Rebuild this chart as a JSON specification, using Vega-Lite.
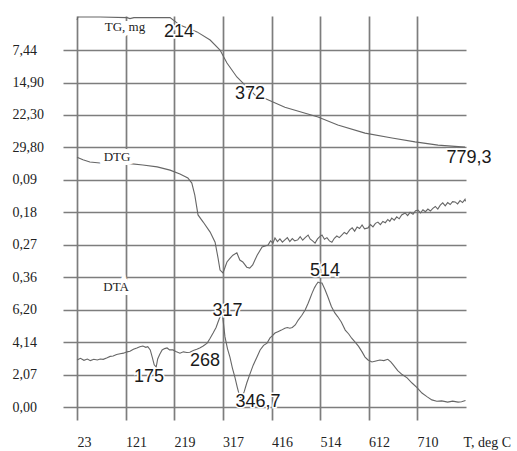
{
  "$schema": "https://vega.github.io/schema/vega-lite/v6.json",
  "width": 403,
  "height": 404,
  "autosize": {"type": "none"},
  "padding": {"left": 63, "top": 16, "right": 51, "bottom": 31},
  "background": "white",
  "config": {"view": {"stroke": null}},
  "datasets": {
    "curves": [
      {"series": "TG", "T": 23, "v": 11.93},
      {"series": "TG", "T": 25, "v": 12.02},
      {"series": "TG", "T": 69.5, "v": 12.02},
      {"series": "TG", "T": 124, "v": 12.0},
      {"series": "TG", "T": 130, "v": 11.97},
      {"series": "TG", "T": 138, "v": 12.0},
      {"series": "TG", "T": 211, "v": 12.0},
      {"series": "TG", "T": 231, "v": 11.77},
      {"series": "TG", "T": 265.5, "v": 11.56},
      {"series": "TG", "T": 292, "v": 11.31},
      {"series": "TG", "T": 312, "v": 11.0},
      {"series": "TG", "T": 326, "v": 10.6},
      {"series": "TG", "T": 346, "v": 10.17},
      {"series": "TG", "T": 366.5, "v": 9.86},
      {"series": "TG", "T": 387, "v": 9.55},
      {"series": "TG", "T": 403, "v": 9.51},
      {"series": "TG", "T": 443, "v": 9.24},
      {"series": "TG", "T": 510, "v": 8.94},
      {"series": "TG", "T": 550, "v": 8.69},
      {"series": "TG", "T": 605, "v": 8.44},
      {"series": "TG", "T": 659.5, "v": 8.29},
      {"series": "TG", "T": 706, "v": 8.17},
      {"series": "TG", "T": 752.5, "v": 8.07},
      {"series": "TG", "T": 807, "v": 8.01},

      {"series": "DTG", "T": 23, "v": 7.7},
      {"series": "DTG", "T": 35, "v": 7.62},
      {"series": "DTG", "T": 49, "v": 7.55},
      {"series": "DTG", "T": 69.5, "v": 7.52},
      {"series": "DTG", "T": 90, "v": 7.5},
      {"series": "DTG", "T": 110, "v": 7.52},
      {"series": "DTG", "T": 130, "v": 7.5},
      {"series": "DTG", "T": 156, "v": 7.46},
      {"series": "DTG", "T": 185, "v": 7.4},
      {"series": "DTG", "T": 211, "v": 7.3},
      {"series": "DTG", "T": 231, "v": 7.18},
      {"series": "DTG", "T": 247, "v": 7.06},
      {"series": "DTG", "T": 255, "v": 6.9},
      {"series": "DTG", "T": 261, "v": 6.53},
      {"series": "DTG", "T": 267.5, "v": 5.92},
      {"series": "DTG", "T": 278, "v": 5.7},
      {"series": "DTG", "T": 292, "v": 5.39},
      {"series": "DTG", "T": 302, "v": 5.08},
      {"series": "DTG", "T": 308, "v": 4.59},
      {"series": "DTG", "T": 312, "v": 4.22},
      {"series": "DTG", "T": 318, "v": 4.13},
      {"series": "DTG", "T": 326, "v": 4.47},
      {"series": "DTG", "T": 332, "v": 4.58},
      {"series": "DTG", "T": 338, "v": 4.68},
      {"series": "DTG", "T": 346, "v": 4.75},
      {"series": "DTG", "T": 352, "v": 4.53},
      {"series": "DTG", "T": 358, "v": 4.47},
      {"series": "DTG", "T": 366, "v": 4.31},
      {"series": "DTG", "T": 372, "v": 4.28},
      {"series": "DTG", "T": 378, "v": 4.38},
      {"series": "DTG", "T": 387, "v": 4.68},
      {"series": "DTG", "T": 397, "v": 4.93},
      {"series": "DTG", "T": 409, "v": 4.99},
      {"series": "DTG", "T": 414, "v": 5.12},
      {"series": "DTG", "T": 419, "v": 5.05},
      {"series": "DTG", "T": 423, "v": 5.21},
      {"series": "DTG", "T": 428, "v": 5.1},
      {"series": "DTG", "T": 433, "v": 5.18},
      {"series": "DTG", "T": 438, "v": 5.08},
      {"series": "DTG", "T": 443, "v": 5.15},
      {"series": "DTG", "T": 448, "v": 5.22},
      {"series": "DTG", "T": 453, "v": 5.1},
      {"series": "DTG", "T": 458, "v": 5.19},
      {"series": "DTG", "T": 463, "v": 5.12},
      {"series": "DTG", "T": 469, "v": 5.15},
      {"series": "DTG", "T": 474, "v": 5.25},
      {"series": "DTG", "T": 479, "v": 5.14},
      {"series": "DTG", "T": 484, "v": 5.22},
      {"series": "DTG", "T": 490, "v": 5.3},
      {"series": "DTG", "T": 494, "v": 5.18},
      {"series": "DTG", "T": 499, "v": 5.12},
      {"series": "DTG", "T": 504, "v": 5.05},
      {"series": "DTG", "T": 509, "v": 5.18},
      {"series": "DTG", "T": 514, "v": 5.26},
      {"series": "DTG", "T": 518, "v": 5.3},
      {"series": "DTG", "T": 523, "v": 5.17},
      {"series": "DTG", "T": 528, "v": 5.22},
      {"series": "DTG", "T": 533, "v": 5.12},
      {"series": "DTG", "T": 538, "v": 5.08},
      {"series": "DTG", "T": 543, "v": 5.2},
      {"series": "DTG", "T": 548, "v": 5.27},
      {"series": "DTG", "T": 553, "v": 5.22},
      {"series": "DTG", "T": 558, "v": 5.3},
      {"series": "DTG", "T": 563, "v": 5.38},
      {"series": "DTG", "T": 568, "v": 5.33},
      {"series": "DTG", "T": 574, "v": 5.46},
      {"series": "DTG", "T": 579, "v": 5.52},
      {"series": "DTG", "T": 584, "v": 5.42},
      {"series": "DTG", "T": 589, "v": 5.55},
      {"series": "DTG", "T": 594, "v": 5.5},
      {"series": "DTG", "T": 599, "v": 5.61},
      {"series": "DTG", "T": 604, "v": 5.49},
      {"series": "DTG", "T": 611, "v": 5.52},
      {"series": "DTG", "T": 616, "v": 5.62},
      {"series": "DTG", "T": 621, "v": 5.55},
      {"series": "DTG", "T": 626, "v": 5.66},
      {"series": "DTG", "T": 631, "v": 5.7},
      {"series": "DTG", "T": 636, "v": 5.62},
      {"series": "DTG", "T": 641, "v": 5.72},
      {"series": "DTG", "T": 646, "v": 5.68},
      {"series": "DTG", "T": 651, "v": 5.78},
      {"series": "DTG", "T": 655, "v": 5.72},
      {"series": "DTG", "T": 659, "v": 5.82},
      {"series": "DTG", "T": 664, "v": 5.76},
      {"series": "DTG", "T": 669, "v": 5.86},
      {"series": "DTG", "T": 674, "v": 5.8},
      {"series": "DTG", "T": 679, "v": 5.92},
      {"series": "DTG", "T": 686, "v": 5.98},
      {"series": "DTG", "T": 691, "v": 5.9},
      {"series": "DTG", "T": 696, "v": 6.0},
      {"series": "DTG", "T": 702, "v": 5.94},
      {"series": "DTG", "T": 707, "v": 6.05},
      {"series": "DTG", "T": 712, "v": 6.07},
      {"series": "DTG", "T": 717, "v": 5.98},
      {"series": "DTG", "T": 722, "v": 6.08},
      {"series": "DTG", "T": 727, "v": 6.02},
      {"series": "DTG", "T": 732, "v": 6.1},
      {"series": "DTG", "T": 737, "v": 6.04},
      {"series": "DTG", "T": 742, "v": 6.12},
      {"series": "DTG", "T": 747, "v": 6.18},
      {"series": "DTG", "T": 752, "v": 6.1},
      {"series": "DTG", "T": 757, "v": 6.22},
      {"series": "DTG", "T": 762, "v": 6.29},
      {"series": "DTG", "T": 767, "v": 6.2},
      {"series": "DTG", "T": 772, "v": 6.3},
      {"series": "DTG", "T": 777, "v": 6.24},
      {"series": "DTG", "T": 782, "v": 6.33},
      {"series": "DTG", "T": 787, "v": 6.32},
      {"series": "DTG", "T": 792, "v": 6.26},
      {"series": "DTG", "T": 797, "v": 6.36},
      {"series": "DTG", "T": 802, "v": 6.3},
      {"series": "DTG", "T": 807, "v": 6.4},
      {"series": "DTG", "T": 808, "v": 6.34},

      {"series": "DTA", "T": 23, "v": 1.45},
      {"series": "DTA", "T": 30, "v": 1.5},
      {"series": "DTA", "T": 37, "v": 1.44},
      {"series": "DTA", "T": 44, "v": 1.48},
      {"series": "DTA", "T": 50, "v": 1.43},
      {"series": "DTA", "T": 57, "v": 1.47},
      {"series": "DTA", "T": 64, "v": 1.45},
      {"series": "DTA", "T": 70, "v": 1.48},
      {"series": "DTA", "T": 76, "v": 1.47},
      {"series": "DTA", "T": 84, "v": 1.52},
      {"series": "DTA", "T": 90, "v": 1.56},
      {"series": "DTA", "T": 96, "v": 1.57},
      {"series": "DTA", "T": 103, "v": 1.62},
      {"series": "DTA", "T": 110, "v": 1.64},
      {"series": "DTA", "T": 117, "v": 1.66},
      {"series": "DTA", "T": 124, "v": 1.7},
      {"series": "DTA", "T": 130, "v": 1.72},
      {"series": "DTA", "T": 137, "v": 1.78},
      {"series": "DTA", "T": 144, "v": 1.82},
      {"series": "DTA", "T": 150, "v": 1.86},
      {"series": "DTA", "T": 156, "v": 1.88},
      {"series": "DTA", "T": 162, "v": 1.84},
      {"series": "DTA", "T": 166, "v": 1.86},
      {"series": "DTA", "T": 171, "v": 1.76},
      {"series": "DTA", "T": 175, "v": 1.54},
      {"series": "DTA", "T": 179, "v": 1.3},
      {"series": "DTA", "T": 183, "v": 1.23},
      {"series": "DTA", "T": 186, "v": 1.48},
      {"series": "DTA", "T": 190, "v": 1.62},
      {"series": "DTA", "T": 195, "v": 1.76},
      {"series": "DTA", "T": 200, "v": 1.8},
      {"series": "DTA", "T": 205, "v": 1.82},
      {"series": "DTA", "T": 210, "v": 1.76},
      {"series": "DTA", "T": 217, "v": 1.76},
      {"series": "DTA", "T": 224, "v": 1.7},
      {"series": "DTA", "T": 231, "v": 1.66},
      {"series": "DTA", "T": 238, "v": 1.7},
      {"series": "DTA", "T": 245, "v": 1.68},
      {"series": "DTA", "T": 251, "v": 1.69},
      {"series": "DTA", "T": 258, "v": 1.74},
      {"series": "DTA", "T": 265, "v": 1.78},
      {"series": "DTA", "T": 271, "v": 1.82},
      {"series": "DTA", "T": 278, "v": 1.88},
      {"series": "DTA", "T": 286, "v": 1.97},
      {"series": "DTA", "T": 292, "v": 2.12},
      {"series": "DTA", "T": 298, "v": 2.28},
      {"series": "DTA", "T": 304, "v": 2.45},
      {"series": "DTA", "T": 308, "v": 2.62},
      {"series": "DTA", "T": 312, "v": 2.78},
      {"series": "DTA", "T": 316, "v": 2.9},
      {"series": "DTA", "T": 318, "v": 2.7},
      {"series": "DTA", "T": 322, "v": 2.16},
      {"series": "DTA", "T": 327, "v": 1.8},
      {"series": "DTA", "T": 332, "v": 1.54},
      {"series": "DTA", "T": 337, "v": 1.2},
      {"series": "DTA", "T": 342, "v": 0.92},
      {"series": "DTA", "T": 347, "v": 0.6},
      {"series": "DTA", "T": 352, "v": 0.31},
      {"series": "DTA", "T": 356, "v": 0.28},
      {"series": "DTA", "T": 361, "v": 0.48},
      {"series": "DTA", "T": 366, "v": 0.74},
      {"series": "DTA", "T": 372, "v": 1.0},
      {"series": "DTA", "T": 379, "v": 1.29},
      {"series": "DTA", "T": 386, "v": 1.52},
      {"series": "DTA", "T": 393, "v": 1.76},
      {"series": "DTA", "T": 400, "v": 1.9},
      {"series": "DTA", "T": 407, "v": 1.97},
      {"series": "DTA", "T": 413, "v": 2.13},
      {"series": "DTA", "T": 418, "v": 2.2},
      {"series": "DTA", "T": 423, "v": 2.28},
      {"series": "DTA", "T": 430, "v": 2.33},
      {"series": "DTA", "T": 436, "v": 2.37},
      {"series": "DTA", "T": 443, "v": 2.43},
      {"series": "DTA", "T": 448, "v": 2.45},
      {"series": "DTA", "T": 453, "v": 2.43},
      {"series": "DTA", "T": 458, "v": 2.45},
      {"series": "DTA", "T": 464, "v": 2.53},
      {"series": "DTA", "T": 470, "v": 2.68},
      {"series": "DTA", "T": 477, "v": 2.82},
      {"series": "DTA", "T": 484, "v": 2.99},
      {"series": "DTA", "T": 490, "v": 3.2},
      {"series": "DTA", "T": 494, "v": 3.35},
      {"series": "DTA", "T": 498, "v": 3.51},
      {"series": "DTA", "T": 503, "v": 3.68},
      {"series": "DTA", "T": 506, "v": 3.76},
      {"series": "DTA", "T": 510, "v": 3.85},
      {"series": "DTA", "T": 514, "v": 3.82},
      {"series": "DTA", "T": 518, "v": 3.82},
      {"series": "DTA", "T": 524, "v": 3.62},
      {"series": "DTA", "T": 530, "v": 3.39},
      {"series": "DTA", "T": 537, "v": 3.1},
      {"series": "DTA", "T": 544, "v": 2.9},
      {"series": "DTA", "T": 550, "v": 2.78},
      {"series": "DTA", "T": 557, "v": 2.62},
      {"series": "DTA", "T": 565, "v": 2.37},
      {"series": "DTA", "T": 572, "v": 2.25},
      {"series": "DTA", "T": 578, "v": 2.12},
      {"series": "DTA", "T": 585, "v": 2.0},
      {"series": "DTA", "T": 592, "v": 1.87},
      {"series": "DTA", "T": 599, "v": 1.7},
      {"series": "DTA", "T": 605, "v": 1.54},
      {"series": "DTA", "T": 611, "v": 1.45},
      {"series": "DTA", "T": 619, "v": 1.39},
      {"series": "DTA", "T": 627, "v": 1.42},
      {"series": "DTA", "T": 635, "v": 1.45},
      {"series": "DTA", "T": 643, "v": 1.43},
      {"series": "DTA", "T": 651, "v": 1.47},
      {"series": "DTA", "T": 657, "v": 1.39},
      {"series": "DTA", "T": 662, "v": 1.3},
      {"series": "DTA", "T": 671, "v": 1.12},
      {"series": "DTA", "T": 680, "v": 1.0},
      {"series": "DTA", "T": 690, "v": 0.9},
      {"series": "DTA", "T": 700, "v": 0.74},
      {"series": "DTA", "T": 710, "v": 0.6},
      {"series": "DTA", "T": 720, "v": 0.43},
      {"series": "DTA", "T": 730, "v": 0.32},
      {"series": "DTA", "T": 740, "v": 0.22},
      {"series": "DTA", "T": 750, "v": 0.18},
      {"series": "DTA", "T": 760, "v": 0.19},
      {"series": "DTA", "T": 772, "v": 0.15},
      {"series": "DTA", "T": 782, "v": 0.18},
      {"series": "DTA", "T": 793, "v": 0.15},
      {"series": "DTA", "T": 800, "v": 0.16},
      {"series": "DTA", "T": 808, "v": 0.2}
    ],
    "serifLabels": [
      {"label": "TG, mg", "T": 120, "v": 11.71},
      {"label": "DTG", "T": 104, "v": 7.69},
      {"label": "DTA", "T": 102, "v": 3.7}
    ],
    "numLabels": [
      {"label": "214", "T": 229, "v": 11.57},
      {"label": "372", "T": 372.6, "v": 9.65},
      {"label": "779,3", "T": 815, "v": 7.67},
      {"label": "175", "T": 168.5, "v": 0.92},
      {"label": "268", "T": 281.6, "v": 1.43},
      {"label": "317", "T": 327, "v": 2.97},
      {"label": "346,7", "T": 388.7, "v": 0.14},
      {"label": "514", "T": 524, "v": 4.18}
    ]
  },
  "layer": [
    {
      "data": {"name": "curves"},
      "mark": {"type": "line", "color": "#666666", "strokeWidth": 1.1, "clip": true},
      "encoding": {
        "x": {
          "field": "T", "type": "quantitative",
          "scale": {"domain": [-5.3, 809], "nice": false, "zero": false},
          "axis": {
            "values": [23, 121, 219, 317, 416, 514, 612, 710],
            "tickCount": 20,
            "grid": true, "gridColor": "#7d7d7d", "gridWidth": 1.7,
            "domain": false, "ticks": false, "tickSize": 0,
            "labelFont": "Liberation Serif", "labelFontSize": 14, "labelColor": "#222",
            "labelAlign": "left", "labelBaseline": "middle", "labelPadding": 22, "labelDx": 1,
            "labelFlush": false, "labelOverlap": false,
            "title": "T, deg C", "titleFont": "Liberation Serif", "titleFontSize": 14,
            "titleFontWeight": "normal", "titleColor": "#222",
            "titleX": 400, "titleY": 22, "titleAlign": "left", "titleBaseline": "middle", "titleAngle": 0
          }
        },
        "y": {
          "field": "v", "type": "quantitative",
          "scale": {"domain": [-0.4, 12.05], "nice": false, "zero": false},
          "axis": {
            "values": [0, 1, 2, 3, 4, 5, 6, 7, 8, 9, 10, 11],
            "tickCount": 24,
            "labelExpr": "['0,00','2,07','4,14','6,20','0,36','0,27','0,18','0,09','29,80','22,30','14,90','7,44'][datum.value]",
            "grid": true, "gridColor": "#7d7d7d", "gridWidth": 1.7,
            "domain": false, "ticks": false, "tickSize": 0,
            "labelFont": "Liberation Serif", "labelFontSize": 14, "labelColor": "#222",
            "labelAlign": "left", "labelBaseline": "middle", "labelPadding": 51,
            "labelFlush": false, "labelOverlap": false,
            "title": null
          }
        },
        "detail": {"field": "series"}
      }
    },
    {
      "data": {"name": "serifLabels"},
      "mark": {"type": "text", "font": "Liberation Serif", "fontSize": 13, "stroke": "white", "strokeWidth": 8, "fill": "white"},
      "encoding": {
        "x": {"field": "T", "type": "quantitative"},
        "y": {"field": "v", "type": "quantitative"},
        "text": {"field": "label"}
      }
    },
    {
      "data": {"name": "serifLabels"},
      "mark": {"type": "text", "font": "Liberation Serif", "fontSize": 13, "color": "#222"},
      "encoding": {
        "x": {"field": "T", "type": "quantitative"},
        "y": {"field": "v", "type": "quantitative"},
        "text": {"field": "label"}
      }
    },
    {
      "data": {"name": "numLabels"},
      "mark": {"type": "text", "font": "Liberation Sans", "fontSize": 18, "stroke": "white", "strokeWidth": 3, "fill": "white"},
      "encoding": {
        "x": {"field": "T", "type": "quantitative"},
        "y": {"field": "v", "type": "quantitative"},
        "text": {"field": "label"}
      }
    },
    {
      "data": {"name": "numLabels"},
      "mark": {"type": "text", "font": "Liberation Sans", "fontSize": 18, "color": "#1a1a1a"},
      "encoding": {
        "x": {"field": "T", "type": "quantitative"},
        "y": {"field": "v", "type": "quantitative"},
        "text": {"field": "label"}
      }
    }
  ]
}
